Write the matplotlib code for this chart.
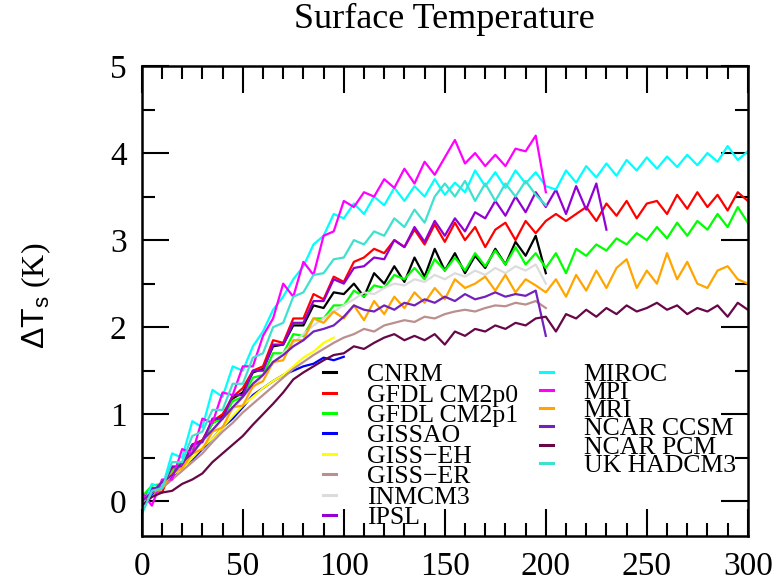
import numpy as np
import matplotlib
matplotlib.use("Agg")
import matplotlib.pyplot as plt
from matplotlib.ticker import MultipleLocator

plt.rcParams['font.family'] = ['Liberation Serif', 'DejaVu Serif']
plt.rcParams['mathtext.fontset'] = 'custom'
plt.rcParams['mathtext.rm'] = 'Liberation Sans'

# ---------------- data (one value every 5 years)
step = 5

cnrm = [0.0, 0.12, 0.15, 0.38, 0.4, 0.65, 0.7, 0.9, 0.98, 1.18,
        1.25, 1.48, 1.52, 1.78, 1.8, 2.02, 2.02, 2.25, 2.22, 2.4,
        2.38, 2.5, 2.35, 2.62, 2.5, 2.7, 2.52, 2.8, 2.58, 2.9,
        2.65, 2.85, 2.62, 2.82, 2.68, 2.9, 2.72, 2.98, 2.82, 3.05, 2.62]
gfdl_cm2p0 = [0.0, 0.12, 0.1, 0.38, 0.4, 0.65, 0.7, 0.92, 1.0, 1.2,
              1.3, 1.5, 1.55, 1.85, 1.82, 2.1, 2.1, 2.38, 2.32, 2.58,
              2.52, 2.75, 2.8, 2.9, 2.85, 3.0, 2.92, 3.12, 2.95, 3.18,
              2.98, 3.2, 3.0, 3.15, 2.92, 3.12, 3.2, 3.0, 3.22, 3.08,
              3.22, 3.3, 3.22, 3.3, 3.38, 3.22, 3.42, 3.28, 3.45, 3.25,
              3.42, 3.45, 3.3, 3.52, 3.36, 3.55, 3.38, 3.52, 3.34, 3.55, 3.45]
gfdl_cm2p1 = [0.05, 0.18, 0.2, 0.35, 0.45, 0.6, 0.68, 0.9, 0.95, 1.15,
              1.2, 1.42, 1.45, 1.7, 1.7, 1.92, 1.9, 2.1, 2.1, 2.25,
              2.25, 2.42, 2.35, 2.48, 2.45, 2.6, 2.55, 2.68, 2.55, 2.78,
              2.65, 2.8, 2.65, 2.85, 2.7, 2.88, 2.72, 2.92, 2.72, 2.85,
              2.68, 2.85, 2.62, 2.9, 2.82, 2.95, 2.88, 3.02, 2.95, 3.08,
              3.0, 3.15, 3.02, 3.2, 3.05, 3.22, 3.12, 3.3, 3.15, 3.38, 3.2]
gissao = [0.0, 0.08, 0.18, 0.28, 0.4, 0.48, 0.6, 0.72, 0.85, 0.95, 1.08, 1.22, 1.3, 1.38, 1.45,
          1.5, 1.55, 1.58, 1.65, 1.62, 1.66]
giss_eh = [0.02, 0.1, 0.2, 0.3, 0.38, 0.5, 0.62, 0.72, 0.85, 0.98, 1.1, 1.2, 1.3, 1.38, 1.45,
           1.55, 1.65, 1.72, 1.82, 1.88]
giss_er = [0.0, 0.05, 0.15, 0.25, 0.35, 0.45, 0.55, 0.68, 0.8, 0.9, 1.02, 1.12, 1.22, 1.32, 1.42,
           1.52, 1.6, 1.68, 1.75, 1.82, 1.88, 1.92, 1.98, 1.95, 2.02, 2.05, 2.08, 2.06, 2.12, 2.1,
           2.15, 2.18, 2.2, 2.18, 2.22, 2.25, 2.24, 2.28, 2.26, 2.3, 2.22]
inmcm3 = [-0.05, 0.1, 0.22, 0.3, 0.42, 0.55, 0.68, 0.8, 0.95, 1.05, 1.2, 1.3, 1.45, 1.58, 1.7,
          1.82, 1.92, 2.02, 2.1, 2.18, 2.25, 2.32, 2.4, 2.38, 2.45, 2.5, 2.48, 2.55, 2.52, 2.6,
          2.55, 2.62, 2.58, 2.65, 2.6, 2.68, 2.62, 2.7, 2.65, 2.72, 2.5]
ipsl = [0.0, 0.15, 0.15, 0.4, 0.4, 0.65, 0.68, 0.95, 0.95, 1.22,
        1.22, 1.5, 1.5, 1.8, 1.8, 2.05, 2.05, 2.3, 2.3, 2.55,
        2.5, 2.68, 2.7, 2.8, 2.78, 3.0, 2.92, 3.15, 2.98, 3.22,
        3.05, 3.25, 3.1, 3.32, 3.25, 3.45, 3.28, 3.5, 3.32, 3.55,
        3.38, 3.58, 3.3, 3.62, 3.35, 3.65, 3.12]
miroc = [-0.1, 0.2, 0.15, 0.55, 0.5, 0.92, 0.85, 1.28, 1.2, 1.55,
         1.5, 1.78, 1.95, 2.2, 2.35, 2.55, 2.7, 2.95, 3.05, 3.3,
         3.25, 3.42, 3.3, 3.5, 3.4, 3.6, 3.45, 3.62, 3.5, 3.7,
         3.52, 3.66, 3.55, 3.8, 3.62, 3.78, 3.6, 3.8, 3.65, 3.78,
         3.62, 3.58, 3.8, 3.66, 3.85, 3.72, 3.88, 3.74, 3.92, 3.8,
         3.95, 3.82, 3.96, 3.84, 3.98, 3.86, 4.0, 3.9, 4.08, 3.92, 4.02]
mpi = [0.1, -0.05, 0.25, 0.25, 0.6, 0.55, 0.95, 0.9, 1.25, 1.22,
       1.55, 1.55, 1.9, 2.1, 2.5, 2.35, 2.75, 2.6, 3.05, 3.1,
       3.45, 3.38, 3.55, 3.5, 3.7, 3.6, 3.82, 3.65, 3.9, 3.75,
       3.95, 4.15, 3.88, 4.0, 3.85, 3.98, 3.85, 4.05, 4.02, 4.2, 3.55]
mri = [0.0, 0.1, 0.15, 0.32, 0.38, 0.55, 0.6, 0.8, 0.85, 1.08,
       1.1, 1.32, 1.38, 1.6, 1.62, 1.85, 1.85, 2.1, 2.05, 2.18,
       2.1, 2.25, 2.08, 2.3, 2.15, 2.35, 2.22, 2.4, 2.28, 2.45,
       2.32, 2.55, 2.45, 2.5, 2.58, 2.42, 2.6, 2.4, 2.55, 2.48,
       2.4, 2.55, 2.35, 2.6, 2.42, 2.65, 2.45, 2.68, 2.78, 2.45,
       2.65, 2.5, 2.85, 2.55, 2.75, 2.5, 2.45, 2.65, 2.7, 2.55, 2.5]
ncar_ccsm = [0.0, 0.1, 0.22, 0.3, 0.45, 0.55, 0.7, 0.82, 0.95, 1.08, 1.2, 1.35, 1.45, 1.6, 1.68,
             1.78, 1.85, 1.95, 1.98, 2.02, 2.12, 2.25, 2.2, 2.18, 2.25, 2.2, 2.28, 2.25, 2.32, 2.28,
             2.35, 2.3, 2.38, 2.32, 2.35, 2.4, 2.35, 2.38, 2.36, 2.42, 1.9]
ncar_pcm = [-0.05, 0.05, 0.1, 0.12, 0.2, 0.25, 0.32, 0.45, 0.55, 0.65, 0.75, 0.88, 1.0, 1.12, 1.25,
            1.4, 1.48, 1.55, 1.62, 1.68, 1.7, 1.78, 1.75, 1.82, 1.88, 1.92, 1.85, 1.9, 1.85, 1.92,
            1.8, 1.95, 1.9, 1.98, 1.95, 2.02, 1.98, 2.05, 2.02, 2.1, 2.12, 1.95, 2.15, 2.1, 2.2,
            2.12, 2.22, 2.15, 2.25, 2.18, 2.22, 2.28, 2.2, 2.25, 2.15, 2.22, 2.18, 2.25, 2.12, 2.28, 2.2]
uk_hadcm3 = [-0.15, 0.12, 0.15, 0.45, 0.45, 0.75, 0.8, 1.05, 1.05, 1.35,
             1.35, 1.65, 1.7, 2.0, 2.05, 2.35, 2.4, 2.6, 2.62, 2.78,
             2.8, 3.0, 2.95, 3.1, 3.05, 3.25, 3.15, 3.35, 3.2, 3.5,
             3.65, 3.5, 3.68, 3.45, 3.65, 3.45, 3.65, 3.5, 3.68, 3.52, 3.4]

models = ['CNRM', 'GFDL CM2p0', 'GFDL CM2p1', 'GISSAO', 'GISS\u2212EH', 'GISS\u2212ER', 'INMCM3',
          'IPSL', 'MIROC', 'MPI', 'MRI', 'NCAR CCSM', 'NCAR PCM', 'UK HADCM3']
series = [cnrm, gfdl_cm2p0, gfdl_cm2p1, gissao, giss_eh, giss_er, inmcm3,
          ipsl, miroc, mpi, mri, ncar_ccsm, ncar_pcm, uk_hadcm3]
# xmgrace default palette
colors = ['#000000', '#ff0000', '#00ff00', '#0000ff', '#ffff00', '#bc8f8f', '#dcdcdc',
          '#9400d3', '#00ffff', '#ff00ff', '#ffa500', '#7221bc', '#670748', '#40e0d0']

# ---------------- plot
fig = plt.figure(figsize=(7.79, 5.84), dpi=100)
ax = fig.add_axes([0.182, 0.082, 0.778, 0.805])

lines = []
for name, vals, c in zip(models, series, colors):
    yrs = step * np.arange(len(vals))
    ln, = ax.plot(yrs, vals, color=c, lw=1.6, label=name)
    lines.append(ln)

ax.set_xlim(0, 300)
ax.set_ylim(-0.4, 5)
ax.xaxis.set_major_locator(MultipleLocator(50))
ax.xaxis.set_minor_locator(MultipleLocator(10))
ax.yaxis.set_major_locator(MultipleLocator(1))
ax.yaxis.set_minor_locator(MultipleLocator(0.5))
ax.tick_params(which='both', direction='in', top=True, right=True, labelsize=24, width=1.5)
ax.tick_params(which='major', length=19.5)
ax.tick_params(which='minor', length=9.5)
ax.tick_params(axis='y', pad=11)
ax.tick_params(axis='x', pad=11)
for sp in ax.spines.values():
    sp.set_linewidth(1.8)

ax.set_title('Surface Temperature', fontsize=26, pad=27)
fig.text(36 / 779, 1 - 296 / 584, r'$\Delta\mathrm{T}_\mathrm{s}$ (K)', rotation=90,
         ha='center', va='center', fontsize=23)

# two legend columns, grace style
leg_kw = dict(frameon=False, fontsize=18.5, handlelength=0.5, handletextpad=1.2,
              borderpad=0, borderaxespad=0, loc='upper left')
leg1 = ax.legend(lines[:8], models[:8], bbox_to_anchor=(0.299, 0.368), labelspacing=-0.1, **leg_kw)
for h in leg1.get_lines():
    h.set_linewidth(2.2)
ax.add_artist(leg1)
leg2 = ax.legend(lines[8:], models[8:], bbox_to_anchor=(0.657, 0.368), labelspacing=-0.19, **leg_kw)
for h in leg2.get_lines():
    h.set_linewidth(2.2)

fig.savefig('out.png', dpi=100)
